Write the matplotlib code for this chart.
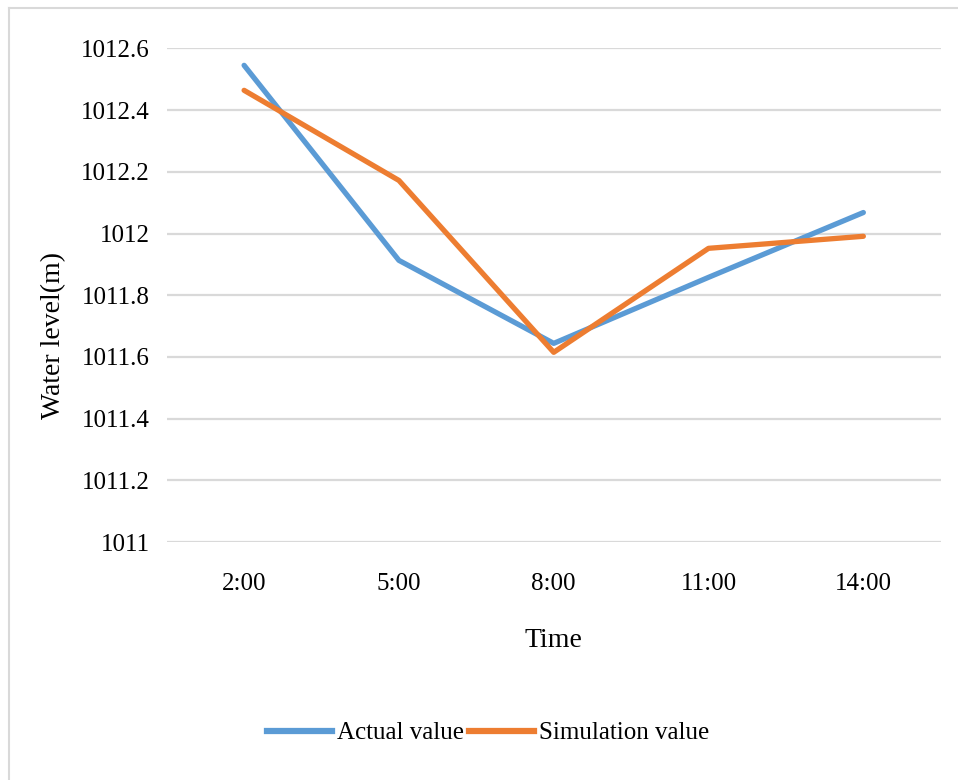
import matplotlib.pyplot as plt
from matplotlib.lines import Line2D

times = ['2:00', '5:00', '8:00', '11:00', '14:00']
actual = [1012.545, 1011.913, 1011.644, 1011.858, 1012.068]
simulation = [1012.464, 1012.172, 1011.615, 1011.952, 1011.991]
y_ticks = [1011, 1011.2, 1011.4, 1011.6, 1011.8, 1012, 1012.2, 1012.4, 1012.6]
y_tick_labels = ['1011', '1011.2', '1011.4', '1011.6', '1011.8', '1012', '1012.2', '1012.4', '1012.6']

plt.rcParams['font.family'] = ['Liberation Serif', 'DejaVu Serif']

fig = plt.figure(figsize=(9.58, 7.80), dpi=100)
ax = fig.add_axes([0.174, 0.305, 0.808, 0.633])

x = range(len(times))
ax.plot(x, actual, color='#5B9BD5', linewidth=3.8, label='Actual value', solid_capstyle='round')
ax.plot(x, simulation, color='#ED7D31', linewidth=3.8, label='Simulation value', solid_capstyle='round')

ax.set_xlim(-0.5, len(times) - 0.5)
ax.set_ylim(1011, 1012.6)
ax.set_yticks(y_ticks)
ax.set_yticklabels(y_tick_labels, fontsize=18)
ax.set_xticks(list(x))
ax.set_xticklabels(times, fontsize=18)
ax.tick_params(length=0, pad=12)
ax.tick_params(axis='x', pad=22)
ax.grid(axis='y', color='#D9D9D9', linewidth=1.6)
ax.set_axisbelow(True)
for s in ax.spines.values():
    s.set_visible(False)

ax.set_xlabel('Time', fontsize=20, labelpad=24)
fig.text(0.056, 0.57, 'Water level(m)', rotation=90, fontsize=20, ha='center', va='center')

handles = [Line2D([], [], color='#5B9BD5', linewidth=4.5),
           Line2D([], [], color='#ED7D31', linewidth=4.5)]
fig.legend(handles, ['Actual value', 'Simulation value'], loc='center', bbox_to_anchor=(0.51, 0.06),
           ncol=2, frameon=False, fontsize=18, handlelength=2.6, handletextpad=0.2, columnspacing=0.2)

# outer chart border (top and left only visible)
fig.add_artist(Line2D([9 / 958, 9 / 958], [0, 1 - 8 / 780], transform=fig.transFigure, color='#D9D9D9', linewidth=1.5))
fig.add_artist(Line2D([9 / 958, 1], [1 - 8 / 780, 1 - 8 / 780], transform=fig.transFigure, color='#D9D9D9', linewidth=1.5))

fig.savefig('out.png', dpi=100)
